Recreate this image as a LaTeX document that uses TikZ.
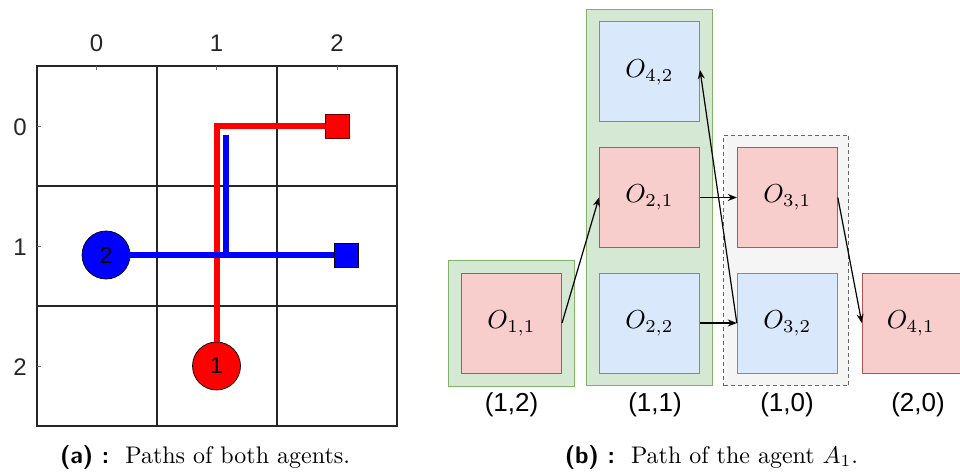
\documentclass[tikz,border=0pt]{standalone}
\usepackage{graphicx}
\usepackage{fontspec}
\newfontfamily\arial{Liberation Sans}
\usetikzlibrary{arrows.meta}
\definecolor{fillred}{HTML}{F8CECC}
\definecolor{drawred}{HTML}{B85450}
\definecolor{fillblue}{HTML}{DAE8FC}
\definecolor{drawblue}{HTML}{6C8EBF}
\definecolor{fillgreen}{HTML}{D5E8D4}
\definecolor{drawgreen}{HTML}{82B366}
\definecolor{fillgray}{HTML}{F5F5F5}
\definecolor{drawgray}{HTML}{666666}
\definecolor{axisgray}{HTML}{262626}
\definecolor{pred}{HTML}{FF0000}
\definecolor{pblue}{HTML}{0000FF}
\newcommand{\optext}[1]{\scalebox{2.6}{$#1$}}
\newcommand{\captext}[1]{\scalebox{2.4}{#1}}
\begin{document}
\begin{tikzpicture}[x=1pt,y=-1pt,
  gridline/.style={line width=1.3pt, black!85},
  tickline/.style={line width=0.8pt, axisgray!70},
  axlabel/.style={text=axisgray, font=\arial\fontsize{24}{28}\selectfont, inner sep=0pt},
  agent/.style={circle, draw=black, line width=0.7pt, minimum size=48pt, inner sep=0pt, font=\arial\fontsize{23}{27}\selectfont},
  goal/.style={draw=black!70, line width=0.9pt, minimum size=24pt, inner sep=0pt},
  redpath/.style={draw=pred, line width=6pt},
  bluepath/.style={draw=pblue, line width=5.5pt},
  opbox/.style={minimum size=100pt, inner sep=0pt, line width=1pt},
  redbox/.style={opbox, draw=drawred, fill=fillred},
  bluebox/.style={opbox, draw=drawblue, fill=fillblue},
  grpgreen/.style={draw=drawgreen, fill=fillgreen, line width=1pt, inner sep=0pt},
  grpgray/.style={draw=drawgray, fill=fillgray, line width=1pt, dashed, dash pattern=on 4pt off 3pt, inner sep=0pt},
  poslabel/.style={font=\arial\fontsize{26}{30}\selectfont, inner sep=0pt},
  arr/.style={-{Stealth[length=9pt,width=7pt]}, line width=1.2pt, black},
  captxt/.style={inner sep=0pt}
]
\useasboundingbox (0,0) rectangle (960,473);
\fill[white] (0,0) rectangle (960,473);

% ---------- left panel: grid ----------
\draw[gridline] (37,66) rectangle (397,426);
\draw[gridline] (157,66) -- (157,426);
\draw[gridline] (277,66) -- (277,426);
\draw[gridline] (37,186) -- (397,186);
\draw[gridline] (37,306) -- (397,306);
\foreach \x in {96.5,216.5,337} \draw[tickline] (\x,66) -- (\x,70);
\foreach \y in {126,246,366} \draw[tickline] (37,\y) -- (41,\y);
\node[axlabel] (c0) at (96.5,43) {0};
\node[axlabel] (c1) at (216.5,43) {1};
\node[axlabel] (c2) at (337,43) {2};
\node[axlabel] (r0) at (20,127) {0};
\node[axlabel] (r1) at (20,247) {1};
\node[axlabel] (r2) at (20,367) {2};

% agents and goals
\node[goal, fill=pred, draw=black!60!pred] (g1) at (337,126) {};
\node[goal, fill=pblue, draw=black] (g2) at (346,255) {};
\node[agent, fill=pred] (a1) at (216.5,366) {1};
\node[agent, fill=pblue] (a2) at (106,255) {2};
\coordinate (bj) at (226,255);
\coordinate (bt) at (226,135);
\draw[redpath] (a1.north) |- (g1.west);
\draw[bluepath] (bj) -- (bt);
\draw[bluepath] (a2.east) -- (g2.west);

\node[captxt] (capa) at (205,457) {\captext{\textsf{\textbf{(a) :}}\ \ Paths of both agents.}};

% ---------- right panel ----------
\node[grpgreen, minimum width=126pt, minimum height=126pt] (grp1) at (511.3,323) {};
\node[grpgreen, minimum width=125.6pt, minimum height=376.4pt] (grp2) at (649.5,197.5) {};
\node[grpgray, minimum width=125.3pt, minimum height=250.7pt] (grp3) at (786.3,260.4) {};

\node[redbox] (o11) at (511.5,323) {\optext{O_{1,1}}};
\node[bluebox] (o42) at (649.5,72) {\optext{O_{4,2}}};
\node[redbox] (o21) at (649.5,197.5) {\optext{O_{2,1}}};
\node[bluebox] (o22) at (649.5,323) {\optext{O_{2,2}}};
\node[redbox] (o31) at (787.3,197.5) {\optext{O_{3,1}}};
\node[bluebox] (o32) at (787.3,323) {\optext{O_{3,2}}};
\node[redbox] (o41) at (912.3,323) {\hspace*{-3pt}\optext{O_{4,1}}};

\draw[arr] (o11.east) -- (o21.west);
\draw[arr] (o21.east) -- (o31.west);
\draw[arr] (o22.east) -- (o32.west);
\draw[arr] (o32.west) -- ([yshift=2pt]o42.east);
\draw[arr] (o31.east) -- (o41.west);

\node[poslabel] (p1) at (511.5,405) {(1,2)};
\node[poslabel] (p2) at (655,405) {(1,1)};
\node[poslabel] (p3) at (787,405) {(1,0)};
\node[poslabel] (p4) at (918,405) {(2,0)};

\node[captxt] (capb) at (711.5,457) {\captext{\textsf{\textbf{(b) :}}\ \ Path of the agent $A_1$.}};
\end{tikzpicture}
\end{document}
